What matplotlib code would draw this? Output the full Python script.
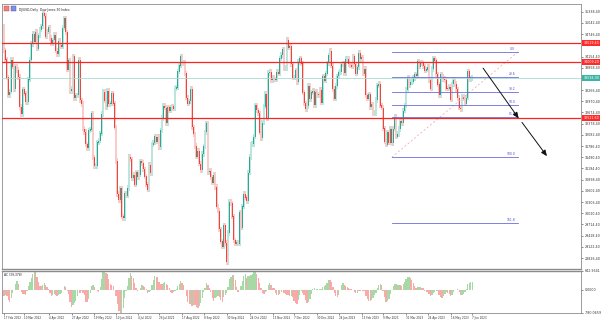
import matplotlib
matplotlib.use("Agg")
import matplotlib.pyplot as plt
import matplotlib.transforms as mtrans
from matplotlib.patches import Rectangle
import numpy as np
import pandas as pd

# closes before the visible window, only used to warm up the AC indicator
warmup_closes = [
    34022, 34640, 34580, 35227, 35719, 35754, 35754, 35971, 35650, 35544, 35927,
    35898, 35365, 34932, 35493, 35754, 35950, 36302, 36398, 36488, 36398, 36338,
    36585, 36800, 36408, 36236, 36232, 36069, 36252, 36290, 36114, 35912, 35369,
    35029, 34715, 34265, 34365, 34298, 34168, 34161, 34725, 35132,
    35405, 35629, 35112, 35089, 35091, 35463, 35768, 35241, 34738, 34566, 34989, 34934,
]

# daily closes, 17 Feb 2022 -> 7 Jun 2023
closes = [
    # Feb 2022
    34312, 34079, 33597, 33132, 33224, 34059, 33893,
    # Mar 2022
    33295, 33891, 33795, 33615, 32818, 32633, 33286, 33174, 32944, 32945, 33545, 34063,
    34481, 34755, 34553, 34808, 34358, 34708, 34862, 34956, 35295, 35229, 34679,
    # Apr 2022
    34819, 34922, 34641, 34497, 34584, 34721, 34308, 34221, 34565, 34452, 34412, 34912,
    35161, 34793, 33811, 34050, 33241, 33302, 34160, 33061,
    # May 2022
    33128, 33129, 34061, 32998, 32899, 32246, 32161, 31834, 31731, 32197, 32223, 32655,
    31490, 31254, 31262, 31880, 31929, 32121, 32637, 33213, 32990,
    # Jun 2022
    32813, 33248, 32900, 32916, 33180, 32910, 32273, 31393, 30517, 30365, 30669, 29927,
    29889, 30530, 30484, 30677, 31501, 31438, 30947, 31029, 30775,
    # Jul 2022
    31097, 30968, 31037, 31385, 31338, 31174, 30981, 30773, 30630, 31289, 31073, 31828,
    31875, 32036, 31900, 32030, 31762, 32197, 32530, 32845,
    # Aug 2022
    32798, 32397, 32813, 32727, 32803, 32833, 32775, 33310, 33337, 33761, 33913, 34152,
    33981, 33999, 33707, 33064, 32910, 32970, 33292, 32283, 32099, 31791, 31510,
    # Sep 2022
    31657, 31319, 31146, 31581, 31775, 32152, 32381, 31105, 31136, 30962, 30822, 31020,
    30707, 30184, 30077, 29590, 29261, 29135, 29684, 29226, 28726,
    # Oct 2022
    29490, 30317, 30274, 29927, 29297, 29203, 29240, 29211, 30039, 29635, 30186, 30524,
    30424, 30334, 31083, 31500, 31837, 31840, 32034, 32862, 32733,
    # Nov 2022
    32653, 32148, 32002, 32403, 32827, 33161, 32514, 33716, 33748, 33537, 33593, 33554,
    33547, 33746, 33701, 34098, 34195, 34347, 33850, 33853, 34590,
    # Dec 2022
    34395, 34430, 33948, 33596, 33598, 33781, 33477, 34006, 34109, 33966, 33203, 32920,
    32758, 32850, 33377, 33028, 33204, 33242, 32876, 33221, 33147,
    # Jan 2023
    33137, 33270, 32931, 33631, 33518, 33705, 33974, 34190, 34303, 33911, 33297, 33045,
    33375, 33630, 33734, 33744, 33950, 33978, 33718, 34086,
    # Feb 2023
    34093, 33949, 33927, 33891, 34156, 33949, 33700, 33870, 34246, 34089, 34128, 33697,
    33827, 33130, 33046, 33154, 32817, 32889, 32657,
    # Mar 2023
    32662, 33004, 33391, 33432, 32856, 32799, 32255, 31910, 31820, 32155, 31875, 32247,
    31862, 32245, 32561, 32031, 32106, 32238, 32433, 32395, 32718, 32860, 33274,
    # Apr 2023
    33601, 33403, 33483, 33486, 33587, 33685, 33647, 34030, 33887, 33988, 33977, 33897,
    33787, 33809, 33876, 33531, 33302, 33827, 34098,
    # May 2023
    34051, 33685, 33415, 33128, 33675, 33619, 33562, 33531, 33309, 33301, 33349, 33013,
    33421, 33536, 33427, 33287, 33056, 32800, 32765, 33093, 33043, 32908,
    # Jun 2023
    33062, 33763, 33563, 33573, 33594,
]

holidays = ["2022-02-21", "2022-04-15", "2022-05-30", "2022-06-20", "2022-07-04",
            "2022-09-05", "2022-11-24", "2022-12-26", "2023-01-02", "2023-01-16",
            "2023-02-20", "2023-04-07", "2023-05-29"]

date_labels = ["17 Feb 2022", "10 Mar 2022", "4 Apr 2022", "27 Apr 2022", "19 May 2022",
               "10 Jun 2022", "4 Jul 2022", "26 Jul 2022", "17 Aug 2022", "8 Sep 2022",
               "30 Sep 2022", "24 Oct 2022", "15 Nov 2022", "7 Dec 2022", "30 Dec 2022",
               "24 Jan 2023", "15 Feb 2023", "9 Mar 2023", "31 Mar 2023", "24 Apr 2023",
               "16 May 2023", "7 Jun 2023"]

price_ticks = [35338.40 - 296.0 * k for k in range(23)]

# horizontal levels
red_levels = [34519.40, 34009.20, 32521.60]
bid_price = 33594.00

# fibonacci retracement (anchors: Mar 2023 low -> Apr 2023 high)
fib_high = 34281.0
fib_low = 31490.0
fib_ratios = [0.0, 0.236, 0.382, 0.5, 0.618, 1.0, 1.618]
fib_names = ["0.0", "23.6", "38.2", "50.0", "61.8", "100.0", "161.8"]
fib_start, fib_end = 270, 358

# drawn arrows (bar index, price)
arrows = [((333.6, 33848), (358.4, 32519)), ((360.7, 32413), (378.1, 31520))]

title = "DJIUSD,Daily  Dow Jones 30 Index"
ac_title = "AC (39,378)"

# ---- derived values
n = len(closes)
x = np.arange(n)
c = np.array(closes, dtype=float)
o = np.concatenate([[warmup_closes[-1]], c[:-1]])
up = c >= o

dates = pd.bdate_range("2022-02-17", "2023-06-07", freq="C", holidays=holidays)

allc = pd.Series(warmup_closes + closes, dtype=float)
ao = allc.rolling(5).mean() - allc.rolling(34).mean()
ac_full = ao - ao.rolling(5).mean()
ac = ac_full.values[len(warmup_closes):]
ac_prev = ac_full.values[len(warmup_closes) - 1:-1]
ac_up = ac > ac_prev

W, H = 602, 323
fig = plt.figure(figsize=(W / 100, H / 100), dpi=100)
fig.patch.set_facecolor("white")

def frac(px_l, px_t, px_r, px_b):
    return [px_l / W, 1 - px_b / H, (px_r - px_l) / W, (px_b - px_t) / H]

ax = fig.add_axes(frac(2, 4, 581, 269))
ax2 = fig.add_axes(frac(2, 271, 581, 313), sharex=ax)

bull, bear = "#2aa892", "#f0443c"
bull_l, bear_l = "#b4e4dc", "#f9c6c4"
pad = 70  # shadow extension in price units

lo = np.minimum(o, c)
hi = np.maximum(o, c)
ax.vlines(x[up], lo[up] - pad, hi[up] + pad, color=bull_l, lw=1.3, zorder=1)
ax.vlines(x[~up], lo[~up] - pad, hi[~up] + pad, color=bear_l, lw=1.3, zorder=1)
ax.bar(x[up], (hi - lo)[up] + 8, bottom=lo[up] - 4, width=0.55, color=bull, lw=0, zorder=2)
ax.bar(x[~up], (hi - lo)[~up] + 8, bottom=lo[~up] - 4, width=0.55, color=bear, lw=0, zorder=2)

for lv in red_levels:
    ax.axhline(lv, color="#ff2020", lw=0.9, zorder=4)
ax.axhline(bid_price, color="#a8dcd4", lw=0.6, zorder=3)

# fibonacci
for r, name in zip(fib_ratios, fib_names):
    lv = fib_high - r * (fib_high - fib_low)
    ax.plot([fib_start, fib_end], [lv, lv], color="#6b6bdc", lw=0.6, zorder=4)
    ax.text(fib_end - 2, lv + 25, name, color="#4a4ad0", fontsize=2.2,
            ha="right", va="bottom", zorder=5)
ax.plot([fib_start, fib_end], [fib_low, fib_high], color="#f4a0a8", lw=0.5,
        ls=(0, (3, 3)), zorder=3)

for (x0, y0), (x1, y1) in arrows:
    ax.annotate("", xy=(x1, y1), xytext=(x0, y0),
                arrowprops=dict(arrowstyle="-|>,head_length=0.35,head_width=0.15",
                                color="#111111", lw=0.7, shrinkA=0, shrinkB=0), zorder=6)

ax.set_xlim(-1.4, 401.8)
ax.set_ylim(28538, 35542)

# right price scale
ax.yaxis.tick_right()
marks = red_levels + [bid_price]
shown = [p for p in price_ticks if min(abs(p - m) for m in marks) > 95]
ax.set_yticks(shown)
ax.set_yticklabels([f"{p:.2f}" for p in shown])
ax.tick_params(axis="y", labelsize=2.3, length=1.5, width=0.4, pad=1.2, colors="#333333")
ax.tick_params(axis="x", bottom=False, labelbottom=False)

tr = mtrans.blended_transform_factory(ax.transAxes, ax.transData)
for lv in red_levels:
    ax.text(1.004, lv, f"{lv:.2f}", transform=tr, fontsize=2.3, color="white",
            ha="left", va="center", clip_on=False, zorder=10,
            bbox=dict(boxstyle="square,pad=0.3", fc="#ff2a2a", ec="none"))
ax.text(1.004, bid_price, f"{bid_price:.2f}", transform=tr, fontsize=2.3, color="white",
        ha="left", va="center", clip_on=False, zorder=10,
        bbox=dict(boxstyle="square,pad=0.3", fc="#3cb4a4", ec="none"))

ax.text(0.03, 0.985, title, transform=ax.transAxes, fontsize=2.2, color="#222222",
        ha="left", va="top")
fig.patches.append(Rectangle((4 / W, 1 - 11 / H), 5 / W, 5 / H, transform=fig.transFigure,
                             fc="#f08080", ec="#c04040", lw=0.3))
fig.patches.append(Rectangle((11 / W, 1 - 11 / H), 5 / W, 5 / H, transform=fig.transFigure,
                             fc="#8090e0", ec="#4050b0", lw=0.3))

# AC panel
ax2.bar(x[ac_up], ac[ac_up], width=0.9, color="#a6d9a6", lw=0)
ax2.bar(x[~ac_up], ac[~ac_up], width=0.9, color="#f7aaaa", lw=0)
ac_max, ac_min = np.nanmax(ac), np.nanmin(ac)
ax2.set_ylim(ac_min, ac_max)
ax2.yaxis.tick_right()
ax2.set_yticks([ac_max, 0, ac_min])
ax2.set_yticklabels([f"{ac_max:.4f}", "0.0000", f"{ac_min:.4f}"])
ax2.tick_params(axis="y", labelsize=2.3, length=1.5, width=0.4, pad=1.2, colors="#333333")
ax2.text(0.003, 0.96, ac_title, transform=ax2.transAxes, fontsize=2.2, color="#222222",
         ha="left", va="top")

tick_idx = [int(np.searchsorted(dates, pd.Timestamp(d))) for d in date_labels]
ax2.set_xticks(tick_idx)
ax2.set_xticklabels(date_labels)
ax2.tick_params(axis="x", labelsize=1.95, length=1.5, width=0.4, pad=1.0, colors="#333333")
for lbl in ax2.get_xticklabels():
    lbl.set_horizontalalignment("left")

for a in (ax, ax2):
    for s in a.spines.values():
        s.set_color("#8c8c8c")
        s.set_linewidth(0.6)
ax.spines["bottom"].set_linewidth(1.0)
ax2.spines["top"].set_linewidth(1.0)

fig.savefig("out.png", dpi=100, facecolor="white")
